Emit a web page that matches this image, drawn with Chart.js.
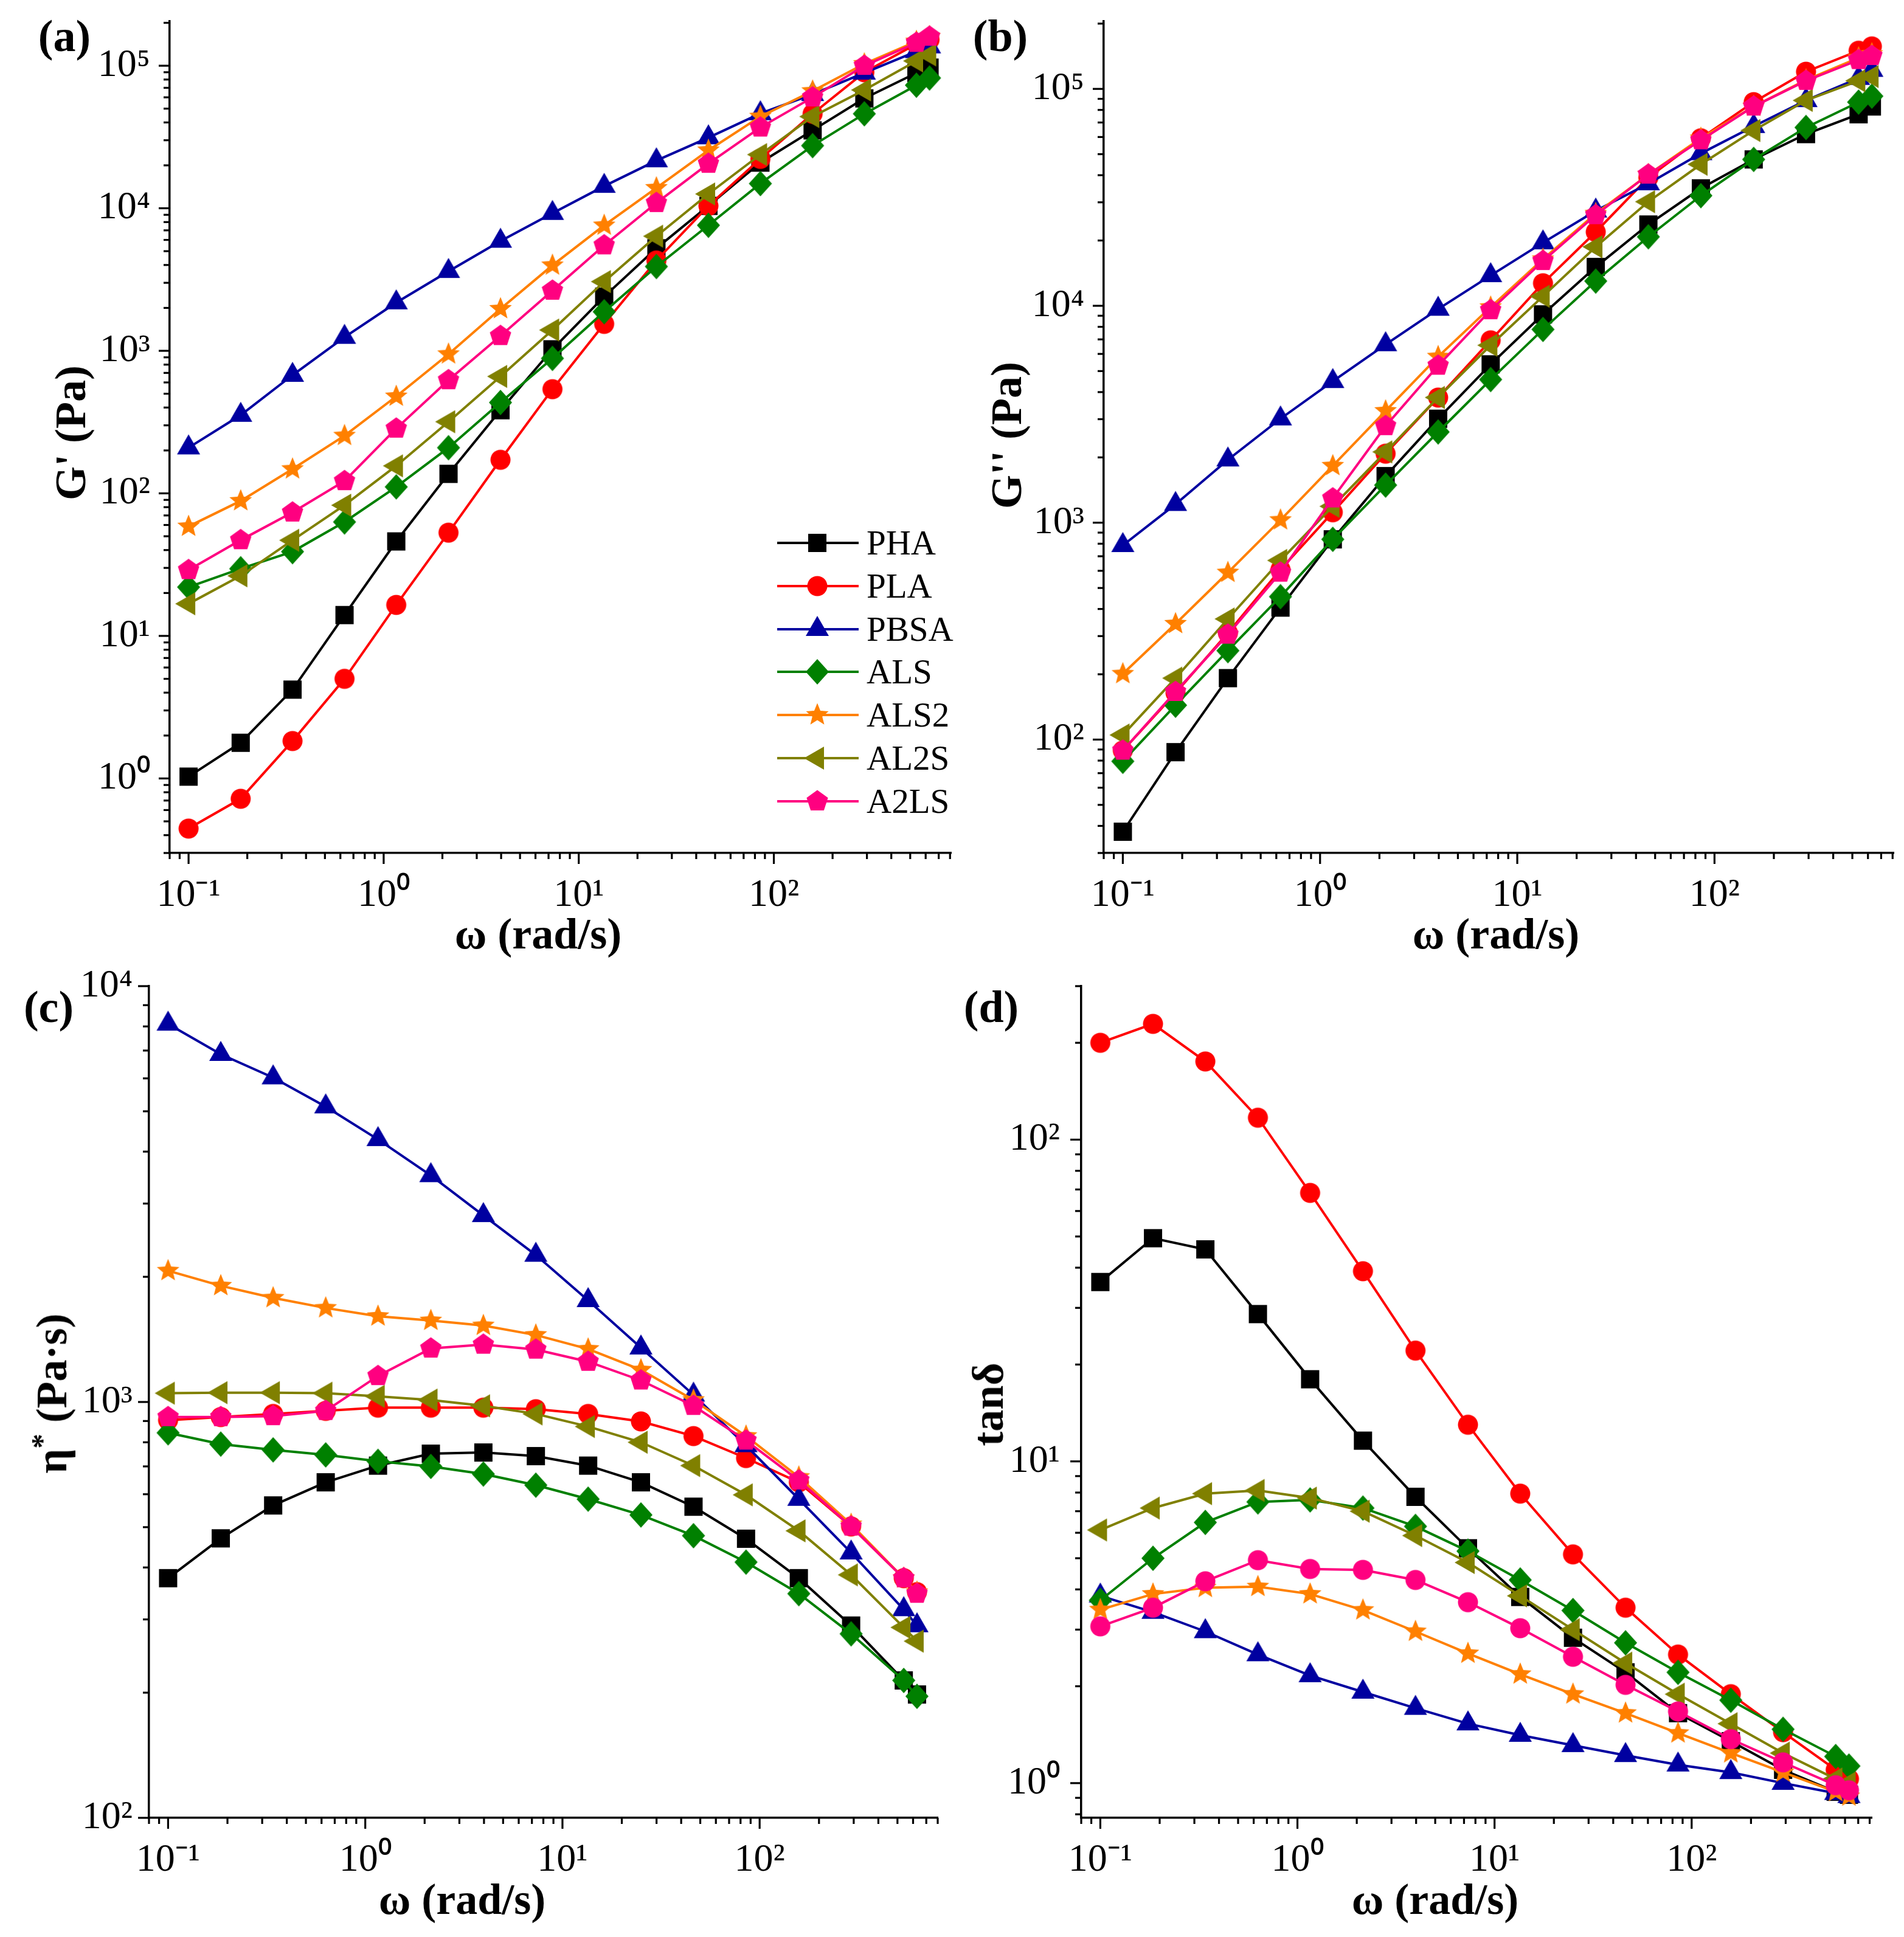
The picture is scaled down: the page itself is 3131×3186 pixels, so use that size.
<!DOCTYPE html>
<html>
<head>
<meta charset="utf-8">
<script src="https://cdn.jsdelivr.net/npm/chart.js@4.4.1/dist/chart.umd.min.js"></script>
<style>
html,body{margin:0;padding:0;background:#fff;}
body{width:3131px;height:3186px;position:relative;overflow:hidden;font-family:'Liberation Serif','Times New Roman',serif;color:#000;}
.panel{position:absolute;}
.lbl{position:absolute;font-weight:bold;font-size:74px;line-height:74px;transform:translate(-50%,-50%);white-space:nowrap;}
.ttl{position:absolute;font-weight:bold;font-size:72px;line-height:72px;white-space:nowrap;}
.ttl.h{transform:translate(-50%,-50%);}
.ttl.v{transform:translate(-50%,-50%) rotate(-90deg);}
.sup{font-size:0.68em;vertical-align:0.5em;line-height:0;}
.legrow{position:absolute;height:60px;display:flex;align-items:center;}
.legrow span{font-size:57px;line-height:60px;margin-left:13px;white-space:nowrap;}
</style>
</head>
<body>
<div class="panel" id="pA" style="left:0;top:0;width:1580px;height:1593px;"><canvas id="cA"></canvas></div>
<div class="panel" id="pB" style="left:1580px;top:0;width:1551px;height:1593px;"><canvas id="cB"></canvas></div>
<div class="panel" id="pC" style="left:0;top:1540px;width:1580px;height:1646px;"><canvas id="cC"></canvas></div>
<div class="panel" id="pD" style="left:1580px;top:1540px;width:1551px;height:1646px;"><canvas id="cD"></canvas></div>

<div class="lbl" style="left:106px;top:59px;">(a)</div>
<div class="lbl" style="left:1645px;top:59px;">(b)</div>
<div class="lbl" style="left:80px;top:1656px;">(c)</div>
<div class="lbl" style="left:1630px;top:1656px;">(d)</div>

<div class="ttl h" style="left:885px;top:1536px;">ω (rad/s)</div>
<div class="ttl h" style="left:2460px;top:1536px;">ω (rad/s)</div>
<div class="ttl h" style="left:760px;top:3124px;">ω (rad/s)</div>
<div class="ttl h" style="left:2360px;top:3124px;">ω (rad/s)</div>
<div class="ttl v" style="left:116px;top:712px;">G' (Pa)</div>
<div class="ttl v" style="left:1655px;top:716px;">G'' (Pa)</div>
<div class="ttl v" style="left:85px;top:2292px;">η<span class="sup">*</span> (Pa·s)</div>
<div class="ttl v" style="left:1625px;top:2310px;">tanδ</div>

<div id="legend"></div>

<script>
// ---------------- data ----------------
const omega = [0.1, 0.185, 0.341, 0.63, 1.16, 2.15, 3.97, 7.33, 13.5, 25, 46.2, 85.3, 158, 291, 538, 628];
const seriesNames  = ['PHA', 'PLA', 'PBSA', 'ALS', 'ALS2', 'AL2S', 'A2LS'];
const seriesColors = ['#000000', '#FF0000', '#0000A0', '#008000', '#FF8000', '#808000', '#FF0080'];
const markersABC = ['square', 'circle', 'triUp', 'diamond', 'star', 'triLeft', 'pentagon'];
const markersD   = ['square', 'circle', 'triUp', 'diamond', 'star', 'triLeft', 'circle'];
const xTickDecades = [0.1, 1, 10, 100];

// (a) storage modulus G' (Pa)
const Gp_PHA  = [1.03, 1.78, 4.2, 14, 46, 137, 383, 1025, 2400, 5240, 10400, 20900, 35200, 59000, 89000, 97000];
const Gp_PLA  = [0.445, 0.72, 1.83, 5.0, 16.5, 53, 172, 538, 1545, 4300, 10400, 22200, 46000, 90000, 142000, 152000];
const Gp_PBSA = [209, 354, 675, 1247, 2177, 3615, 5890, 9230, 14300, 21600, 31300, 46200, 63000, 89000, 126000, 136000];
const Gp_ALS  = [22, 29.6, 39, 63, 111, 209, 434, 885, 1880, 3900, 7600, 14900, 27500, 46000, 73000, 82000];
const Gp_ALS2 = [58.6, 88.5, 148, 254, 479, 948, 1970, 3980, 7590, 13900, 25500, 44000, 66400, 103000, 148000, 160000];
const Gp_AL2S = [16.8, 26.4, 46.9, 82.6, 156, 318, 661, 1400, 3060, 6370, 12600, 23800, 44000, 67600, 108000, 119000];
const Gp_A2LS = [29, 47, 73.5, 122, 285, 623, 1272, 2645, 5500, 10900, 20550, 36900, 60000, 100000, 145000, 160000];

// (b) loss modulus G'' (Pa)
const Gpp_PHA  = [37.6, 87.5, 192, 406, 838, 1640, 3015, 5370, 9130, 15100, 23700, 34800, 47300, 61900, 76400, 83000];
const Gpp_PLA  = [89, 164, 310, 608, 1117, 2080, 3775, 6930, 12700, 21900, 39000, 59200, 86900, 120000, 150000, 157000];
const Gpp_PBSA = [786, 1216, 1950, 3015, 4485, 6630, 9660, 13800, 19550, 27400, 36600, 50400, 67200, 88500, 112000, 122000];
const Gpp_ALS  = [79.4, 144, 257, 456, 838, 1490, 2620, 4570, 7780, 13000, 20800, 32200, 47300, 66400, 86900, 92600];
const Gpp_ALS2 = [201, 342, 589, 1028, 1830, 3275, 5830, 9860, 16400, 26600, 40300, 59200, 83000, 110000, 139000, 145000];
const Gpp_AL2S = [105, 192, 360, 670, 1190, 2120, 3780, 6580, 11060, 18700, 30200, 44900, 64300, 88500, 109000, 114000];
const Gpp_A2LS = [89, 166, 305, 589, 1295, 2790, 5300, 9550, 16100, 26200, 40300, 58000, 83000, 109000, 136000, 142000];

// (c) complex viscosity eta* (Pa s)
const Eta_PHA  = [377, 470, 564, 641, 703, 751, 756, 741, 703, 641, 560, 469, 377, 290, 214, 198];
const Eta_PLA  = [904, 920, 936, 952, 969, 969, 969, 961, 936, 898, 828, 733, 641, 502, 377, 349];
const Eta_PBSA = [8110, 6860, 6025, 5130, 4280, 3505, 2810, 2256, 1755, 1350, 1040, 786, 584, 434, 317, 290];
const Eta_ALS  = [843, 792, 767, 746, 720, 700, 671, 631, 584, 535, 477, 412, 346, 277, 214, 196];
const Eta_ALS2 = [2068, 1903, 1780, 1683, 1608, 1570, 1527, 1449, 1341, 1195, 1011, 828, 660, 508, 377, 349];
const Eta_AL2S = [1050, 1053, 1053, 1050, 1032, 1011, 979, 936, 873, 800, 703, 598, 490, 384, 287, 266];
const Eta_A2LS = [920, 920, 925, 952, 1155, 1345, 1374, 1337, 1250, 1127, 979, 808, 648, 502, 377, 346];

// (d) loss factor tan delta
const Tan_PHA  = [36.1, 49.4, 45.6, 28.7, 18.0, 11.6, 7.76, 5.37, 3.79, 2.83, 2.21, 1.65, 1.35, 1.10, 0.94, 0.92];
const Tan_PLA  = [200, 229, 175, 117, 68.3, 39, 22.1, 13, 7.94, 5.14, 3.51, 2.51, 1.89, 1.44, 1.10, 1.03];
const Tan_PBSA = [3.82, 3.4, 2.96, 2.51, 2.16, 1.92, 1.71, 1.53, 1.41, 1.31, 1.22, 1.14, 1.08, 1.0, 0.93, 0.91];
const Tan_ALS  = [3.7, 5.0, 6.46, 7.48, 7.59, 7.16, 6.28, 5.26, 4.28, 3.44, 2.73, 2.21, 1.81, 1.47, 1.21, 1.13];
const Tan_ALS2 = [3.46, 3.87, 4.05, 4.08, 3.87, 3.45, 2.96, 2.53, 2.18, 1.89, 1.65, 1.43, 1.24, 1.08, 0.94, 0.91];
const Tan_AL2S = [6.12, 7.16, 7.94, 8.12, 7.69, 7.0, 5.88, 4.85, 3.82, 3.0, 2.36, 1.89, 1.53, 1.24, 1.03, 1.0];
const Tan_A2LS = [3.07, 3.51, 4.24, 4.93, 4.63, 4.6, 4.28, 3.65, 3.03, 2.47, 2.02, 1.67, 1.37, 1.16, 0.985, 0.95];

const panelA = [Gp_PHA, Gp_PLA, Gp_PBSA, Gp_ALS, Gp_ALS2, Gp_AL2S, Gp_A2LS];
const panelB = [Gpp_PHA, Gpp_PLA, Gpp_PBSA, Gpp_ALS, Gpp_ALS2, Gpp_AL2S, Gpp_A2LS];
const panelC = [Eta_PHA, Eta_PLA, Eta_PBSA, Eta_ALS, Eta_ALS2, Eta_AL2S, Eta_A2LS];
const panelD = [Tan_PHA, Tan_PLA, Tan_PBSA, Tan_ALS, Tan_ALS2, Tan_AL2S, Tan_A2LS];

// ---------------- markers ----------------
function drawMarkerPath(g, shape) {
  g.beginPath();
  switch (shape) {
    case 'square': g.rect(-15, -15, 30, 30); break;
    case 'circle': g.arc(0, 0, 16.5, 0, Math.PI * 2); break;
    case 'triUp': g.moveTo(0, -22); g.lineTo(19, 11); g.lineTo(-19, 11); g.closePath(); break;
    case 'triLeft': g.moveTo(-22, 0); g.lineTo(11, -19); g.lineTo(11, 19); g.closePath(); break;
    case 'diamond': g.moveTo(0, -21); g.lineTo(19, 0); g.lineTo(0, 21); g.lineTo(-19, 0); g.closePath(); break;
    case 'star': {
      const R = 19.5, r = 8.6;
      for (let k = 0; k < 10; k++) {
        const a = -Math.PI / 2 + k * Math.PI / 5, rr = k % 2 === 0 ? R : r;
        const px = rr * Math.cos(a), py = rr * Math.sin(a);
        if (k === 0) g.moveTo(px, py); else g.lineTo(px, py);
      }
      g.closePath(); break;
    }
    case 'pentagon': {
      const R = 18.5;
      for (let k = 0; k < 5; k++) {
        const a = -Math.PI / 2 + k * 2 * Math.PI / 5;
        const px = R * Math.cos(a), py = R * Math.sin(a);
        if (k === 0) g.moveTo(px, py); else g.lineTo(px, py);
      }
      g.closePath(); break;
    }
  }
}
const markerCache = {};
function markerCanvas(shape, color) {
  const key = shape + color;
  if (markerCache[key]) return markerCache[key];
  const S = 50, c = document.createElement('canvas');
  c.width = S; c.height = S;
  const g = c.getContext('2d');
  g.translate(S / 2, S / 2);
  g.fillStyle = color;
  drawMarkerPath(g, shape);
  g.fill();
  markerCache[key] = c;
  return c;
}

// ---------------- helpers ----------------
const SUP = {'-': '\u207B', '0': '\u2070', '1': '\u00B9', '2': '\u00B2', '3': '\u00B3', '4': '\u2074', '5': '\u2075', '6': '\u2076', '7': '\u2077', '8': '\u2078', '9': '\u2079'};
function decadeLabel(v) {
  const e = Math.round(Math.log10(v));
  return '10' + String(e).split('').map(ch => SUP[ch]).join('');
}
function decadesIn(min, max) {
  const out = [];
  for (let e = Math.ceil(Math.log10(min) - 1e-9); e <= Math.floor(Math.log10(max) + 1e-9); e++) out.push(Math.pow(10, e));
  return out;
}
function zeroPad(s) { s.paddingLeft = 0; s.paddingRight = 0; s.paddingTop = 0; s.paddingBottom = 0; }

const tickPlugin = {
  id: 'logTicks',
  afterDraw(chart) {
    const ctx = chart.ctx;
    ctx.save();
    ctx.strokeStyle = '#000';
    ctx.lineWidth = 3.2;
    ['x', 'y'].forEach(id => {
      const s = chart.scales[id];
      const lo = Math.floor(Math.log10(s.min)) - 1, hi = Math.ceil(Math.log10(s.max));
      for (let e = lo; e <= hi; e++) {
        for (let m = 1; m <= 9; m++) {
          const v = m * Math.pow(10, e);
          if (v < s.min * 0.9999 || v > s.max * 1.0001) continue;
          const len = m === 1 ? 18 : 10;
          const p = s.getPixelForValue(v);
          ctx.beginPath();
          if (id === 'x') { ctx.moveTo(p, s.top); ctx.lineTo(p, s.top + len); }
          else { ctx.moveTo(s.right, p); ctx.lineTo(s.right - len, p); }
          ctx.stroke();
        }
      }
    });
    ctx.restore();
  }
};

function makeChart(canvasId, values, markers, cfg) {
  const datasets = seriesNames.map((name, i) => ({
    label: name,
    data: omega.map((x, j) => ({ x: x, y: values[i][j] })),
    borderColor: seriesColors[i],
    backgroundColor: seriesColors[i],
    borderWidth: 4,
    pointStyle: markerCanvas(markers[i], seriesColors[i]),
    pointRadius: 12,
    pointHoverRadius: 12,
    tension: 0,
    clip: false,
    order: seriesNames.length - i
  }));
  const tickFont = { family: 'Liberation Serif', size: 64, lineHeight: 1.2 };
  return new Chart(document.getElementById(canvasId), {
    type: 'line',
    data: { datasets },
    options: {
      responsive: true,
      maintainAspectRatio: false,
      animation: false,
      events: [],
      layout: { padding: { top: cfg.padTop, right: cfg.padRight, left: 0, bottom: 0 } },
      plugins: { legend: { display: false }, tooltip: { enabled: false } },
      scales: {
        x: {
          type: 'logarithmic', position: 'bottom', min: cfg.xmin, max: cfg.xmax,
          grid: { display: false, drawTicks: false },
          border: { display: true, color: '#000', width: 3.5 },
          ticks: { autoSkip: false, maxRotation: 0, minRotation: 0, padding: 32, color: '#000', font: tickFont, callback: v => decadeLabel(v) },
          afterBuildTicks: s => { s.ticks = xTickDecades.map(v => ({ value: v })); },
          afterFit: s => { s.height = cfg.xH; zeroPad(s); }
        },
        y: {
          type: 'logarithmic', position: 'left', min: cfg.ymin, max: cfg.ymax,
          grid: { display: false, drawTicks: false },
          border: { display: true, color: '#000', width: 3.5 },
          ticks: { autoSkip: false, padding: cfg.yPad, color: '#000', font: tickFont, callback: v => decadeLabel(v) },
          afterBuildTicks: s => { s.ticks = decadesIn(cfg.ymin, cfg.ymax).map(v => ({ value: v })); },
          afterFit: s => { s.width = cfg.yW; zeroPad(s); }
        }
      }
    },
    plugins: [tickPlugin]
  });
}

makeChart('cA', panelA, markersABC, { xmin: 0.08, xmax: 810, ymin: 0.3, ymax: 2.05e5, padTop: 35, padRight: 4, xH: 190, yW: 279, yPad: 32 });
makeChart('cB', panelB, markersABC, { xmin: 0.08, xmax: 810, ymin: 30, ymax: 2.05e5, padTop: 35, padRight: 17, xH: 190, yW: 235, yPad: 32 });
makeChart('cC', panelC, markersABC, { xmin: 0.08, xmax: 800, ymin: 100, ymax: 10000, padTop: 82, padRight: 38, xH: 196, yW: 245, yPad: 27 });
makeChart('cD', panelD, markersD, { xmin: 0.08, xmax: 820, ymin: 0.78, ymax: 300, padTop: 82, padRight: 53, xH: 196, yW: 198, yPad: 35 });

// ---------------- legend (panel a) ----------------
const legendLeft = 1278, legendTop = 893, legendStep = 70.8;
const legendHost = document.getElementById('legend');
seriesNames.forEach((name, i) => {
  const row = document.createElement('div');
  row.className = 'legrow';
  row.style.left = legendLeft + 'px';
  row.style.top = (legendTop + i * legendStep - 30) + 'px';
  const c = document.createElement('canvas');
  c.width = 134; c.height = 60;
  const g = c.getContext('2d');
  g.strokeStyle = seriesColors[i]; g.lineWidth = 4;
  g.beginPath(); g.moveTo(0, 30); g.lineTo(134, 30); g.stroke();
  g.save(); g.translate(66, 30); g.fillStyle = seriesColors[i];
  drawMarkerPath(g, markersABC[i]); g.fill(); g.restore();
  row.appendChild(c);
  const t = document.createElement('span');
  t.textContent = name;
  row.appendChild(t);
  legendHost.appendChild(row);
});
</script>
</body>
</html>
